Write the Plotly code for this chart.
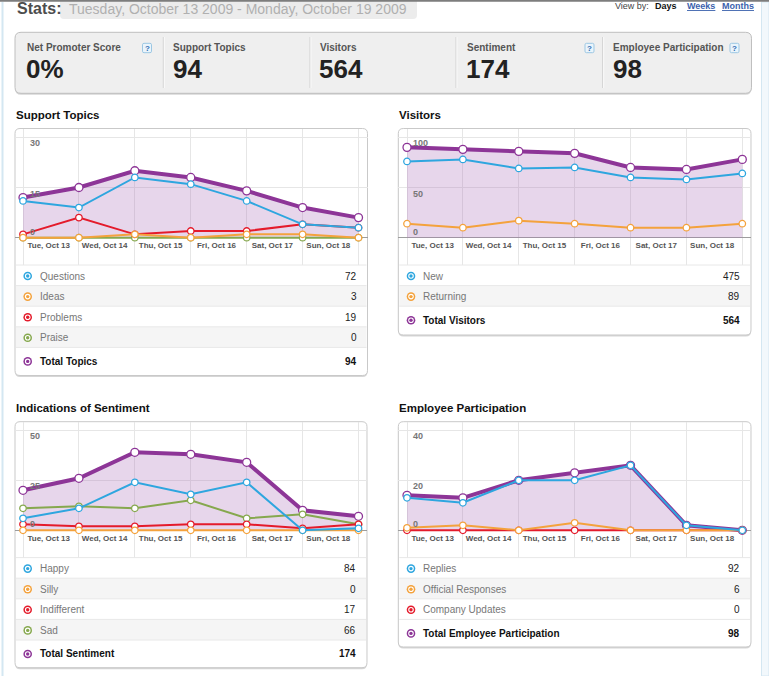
import plotly.graph_objects as go

W, H = 769, 676
FONT = "Liberation Sans, Arial, Helvetica, sans-serif"

days = ["Tue, Oct 13", "Wed, Oct 14", "Thu, Oct 15", "Fri, Oct 16",
        "Sat, Oct 17", "Sun, Oct 18", "Mon, Oct 19"]

# Support Topics
topic_names = ["Questions", "Ideas", "Problems", "Praise"]
questions = [11, 9, 18, 16, 11, 4, 3]
ideas = [0, 0, 1, 0, 1, 1, 0]
problems = [1, 6, 1, 2, 2, 4, 3]
praise = [0, 0, 0, 0, 0, 0, 0]
topics_total = [12, 15, 20, 18, 14, 9, 6]
topics_ticks = [0, 15, 30]

# Visitors
visitor_names = ["New", "Returning"]
new_visitors = [76, 78, 69, 70, 60, 58, 64]
returning = [14, 10, 17, 14, 10, 10, 14]
visitors_total = [90, 88, 86, 84, 70, 68, 78]
visitors_ticks = [0, 50, 100]

# Indications of Sentiment
sentiment_names = ["Happy", "Silly", "Indifferent", "Sad"]
happy = [6, 11, 24, 18, 24, 0, 1]
silly = [0, 0, 0, 0, 0, 0, 0]
indifferent = [3, 2, 2, 3, 3, 1, 3]
sad = [11, 12, 11, 15, 6, 8, 3]
sentiment_total = [20, 26, 39, 38, 34, 10, 7]
sentiment_ticks = [0, 25, 50]

# Employee Participation
employee_names = ["Replies", "Official Responses", "Company Updates"]
replies = [13, 11, 20, 20, 26, 2, 0]
official = [1, 2, 0, 3, 0, 0, 0]
company = [0, 0, 0, 0, 0, 0, 0]
employee_total = [14, 13, 20, 23, 26, 2, 0]
employee_ticks = [0, 20, 40]

kpi_labels = ["Net Promoter Score", "Support Topics", "Visitors", "Sentiment",
              "Employee Participation"]
kpi_values = ["0%", sum(topics_total), sum(visitors_total), sum(sentiment_total),
              sum(employee_total)]

BLUE = "#2ea6df"
ORANGE = "#f4a23c"
RED = "#e41b2b"
GREEN = "#86a84e"
PURPLE = "#8d3597"
FILL = "rgba(175,120,190,0.30)"


def fx(x):
    return x / W


def fy(y):
    return 1 - y / H


def rrect(x0, y0, x1, y1, r):
    def p(x, y):
        return f"{fx(x):.5f},{fy(y):.5f}"
    return (f"M{p(x0 + r, y0)} L{p(x1 - r, y0)} Q{p(x1, y0)} {p(x1, y0 + r)} "
            f"L{p(x1, y1 - r)} Q{p(x1, y1)} {p(x1 - r, y1)} "
            f"L{p(x0 + r, y1)} Q{p(x0, y1)} {p(x0, y1 - r)} "
            f"L{p(x0, y0 + r)} Q{p(x0, y0)} {p(x0 + r, y0)} Z")


shapes = []
annotations = []


def text(x, y, s, size, color, bold=False, anchor="left", **kw):
    annotations.append(dict(
        x=fx(x), y=fy(y), xref="paper", yref="paper", text=str(s), showarrow=False,
        xanchor=anchor, yanchor="middle",
        font=dict(family=FONT, size=size, color=color, weight="bold" if bold else "normal"),
        **kw))


def box(x0, y0, x1, y1, r, fill, line="#c9c9c9"):
    shapes.append(dict(type="path", path=rrect(x0, y0 + 1.5, x1, y1 + 1.5, r),
                       xref="paper", yref="paper", fillcolor="#d6d6d6",
                       line=dict(width=0), layer="below"))
    shapes.append(dict(type="path", path=rrect(x0, y0, x1, y1, r),
                       xref="paper", yref="paper", fillcolor=fill,
                       line=dict(color=line, width=1), layer="below"))


def icon(cx, cy, color):
    for r, c in [(4.3, color), (2.8, "white"), (1.7, color)]:
        shapes.append(dict(type="circle", xref="paper", yref="paper",
                           x0=fx(cx - r), x1=fx(cx + r), y0=fy(cy + r), y1=fy(cy - r),
                           fillcolor=c, line=dict(width=0)))


# page frame
shapes.append(dict(type="rect", xref="paper", yref="paper", x0=0, x1=1,
                   y0=fy(1.8), y1=1, fillcolor="#7d7d7d", line=dict(width=0)))
shapes.append(dict(type="line", xref="paper", yref="paper", x0=fx(2.5), x1=fx(2.5),
                   y0=0, y1=fy(2), line=dict(color="#d4e7f2", width=2)))
shapes.append(dict(type="rect", xref="paper", yref="paper", x0=fx(761.5), x1=1,
                   y0=0, y1=fy(2), fillcolor="#f2f8fc",
                   line=dict(color="#d4e7f2", width=1), layer="below"))

# header
text(15, 8.5, "Stats:", 16, "#4d4d4d", bold=True)
shapes.append(dict(type="path", path=rrect(60, -8, 417, 19, 4), xref="paper",
                   yref="paper", fillcolor="#ececec", line=dict(width=0), layer="below"))
text(66.5, 9, "Tuesday, October 13 2009 - Monday, October 19 2009", 14, "#b0b0b0")
text(613, 5.5, "View by:", 9, "#444")
text(652.5, 5.5, "Days", 9, "#111", bold=True)
text(685, 5.5, "<u>Weeks</u>", 9, "#3c62ad", bold=True)
text(720, 5.5, "<u>Months</u>", 9, "#3c62ad", bold=True)

# KPI strip
box(15, 32.3, 751.5, 93.3, 6, "#efefef", line="#bfbfbf")
kpi_x = [25, 171.7, 318.3, 465, 611.7]
for xd in [163.3, 310, 456, 602.7]:
    shapes.append(dict(type="line", xref="paper", yref="paper", x0=fx(xd), x1=fx(xd),
                       y0=fy(88), y1=fy(37), line=dict(color="#d0d0d0", width=1)))
    shapes.append(dict(type="line", xref="paper", yref="paper", x0=fx(xd + 1), x1=fx(xd + 1),
                       y0=fy(88), y1=fy(37), line=dict(color="#fafafa", width=1)))
for x, lab, val in zip(kpi_x, kpi_labels, kpi_values):
    text(x - 0.5, 47.7, lab, 10, "#555", bold=True)
    text(x - 1, 69.5, val, 26, "#222", bold=True)
for cx in [147, 589.5, 734.5]:
    shapes.append(dict(type="path", path=rrect(cx - 4.5, 43.3, cx + 4.5, 52.7, 1.5),
                       xref="paper", yref="paper", fillcolor="#eaf4fb",
                       line=dict(color="#9cc7e3", width=1)))
    text(cx, 48, "?", 8, "#2f6db3", bold=True, anchor="center")

panels = [
    dict(title="Support Topics", box=(15, 128.5, 367.5, 375.5), first=23, last=358.5,
         zero=237.7, top=137.3, ticks=topics_ticks, names=topic_names,
         series=[questions, ideas, problems, praise], colors=[BLUE, ORANGE, RED, GREEN],
         total=topics_total, total_name="Total Topics"),
    dict(title="Visitors", box=(398.3, 128.5, 751, 335), first=407, last=742.3,
         zero=237.7, top=137.3, ticks=visitors_ticks, names=visitor_names,
         series=[new_visitors, returning], colors=[BLUE, ORANGE],
         total=visitors_total, total_name="Total Visitors"),
    dict(title="Indications of Sentiment", box=(15, 421.7, 367, 667.7), first=23, last=358.5,
         zero=530.3, top=430.3, ticks=sentiment_ticks, names=sentiment_names,
         series=[happy, silly, indifferent, sad], colors=[BLUE, ORANGE, RED, GREEN],
         total=sentiment_total, total_name="Total Sentiment"),
    dict(title="Employee Participation", box=(398.3, 421.7, 751, 647), first=407, last=742.3,
         zero=530.3, top=430.3, ticks=employee_ticks, names=employee_names,
         series=[replies, official, company], colors=[BLUE, ORANGE, RED],
         total=employee_total, total_name="Total Employee Participation"),
]

fig = go.Figure()
xs = list(range(len(days)))
ROW = 20.6

for k, p in enumerate(panels, start=1):
    bx0, by0, bx1, by1 = p["box"]
    zero = p["zero"]
    legend_top = zero + 27.3
    xa = "x" if k == 1 else f"x{k}"
    ya = "y" if k == 1 else f"y{k}"

    box(bx0, by0, bx1, by1, 5, "white")
    text(bx0 - 1.5, by0 - 13.5, p["title"], 11.5, "#111", bold=True)

    unit = (p["last"] - p["first"]) / (len(days) - 1)
    ppu = (zero - p["top"]) / p["ticks"][-1]
    fig.update_layout({
        ("xaxis" if k == 1 else f"xaxis{k}"): dict(
            domain=[fx(bx0), fx(bx1)],
            range=[(bx0 - p["first"]) / unit, len(days) - 1 + (bx1 - p["last"]) / unit],
            anchor="free", position=fy(zero + 1.5),
            tickmode="array", tickvals=[i + 0.46 for i in range(len(days) - 1)],
            ticktext=days[:-1], ticks="", showgrid=False, zeroline=False, showline=False,
            tickfont=dict(family=FONT, size=8, color="#555", weight="bold"),
            minor=dict(tickmode="linear", tick0=0, dtick=1, showgrid=True,
                       gridcolor="#e6e6e6", gridwidth=1),
            fixedrange=True),
        ("yaxis" if k == 1 else f"yaxis{k}"): dict(
            domain=[fy(legend_top), fy(by0)],
            range=[-(legend_top - zero) / ppu, (zero - by0) / ppu],
            anchor=xa, tickmode="array", tickvals=p["ticks"][1:], showticklabels=False,
            showgrid=True, gridcolor="#e6e6e6", zeroline=True, zerolinecolor="#9d9d9d",
            zerolinewidth=1, ticks="", fixedrange=True),
    })

    for t in p["ticks"]:
        annotations.append(dict(
            x=fx(bx0 + 12.5), y=t, xref="paper", yref=ya, text=str(t), showarrow=False,
            xanchor="left", yanchor="middle", yshift=6 if t == 0 else -6,
            font=dict(family=FONT, size=9, color="#777", weight="bold")))

    fig.add_trace(go.Scatter(
        x=xs, y=p["total"], xaxis=xa, yaxis=ya, mode="lines+markers",
        fill="tozeroy", fillcolor=FILL, line=dict(color=PURPLE, width=4),
        marker=dict(size=8, color="white", line=dict(color=PURPLE, width=1.3)),
        hoverinfo="skip"))
    for vals, color in reversed(list(zip(p["series"], p["colors"]))):
        fig.add_trace(go.Scatter(
            x=xs, y=vals, xaxis=xa, yaxis=ya, mode="lines+markers",
            line=dict(color=color, width=2),
            marker=dict(size=6.5, color="white", line=dict(color=color, width=1.3)),
            hoverinfo="skip"))

    # legend table
    ix, lx, vx = bx0 + 12.7, bx0 + 22.7, bx1 - 9
    rows = list(zip(p["names"], p["colors"], p["series"]))
    for i, (name, color, vals) in enumerate(rows):
        yt = legend_top + i * ROW
        if i % 2 == 1:
            shapes.append(dict(type="rect", xref="paper", yref="paper", x0=fx(bx0 + 1),
                               x1=fx(bx1 - 1), y0=fy(yt + ROW), y1=fy(yt),
                               fillcolor="#f5f5f5", line=dict(width=0), layer="below"))
        shapes.append(dict(type="line", xref="paper", yref="paper", x0=fx(bx0 + 1),
                           x1=fx(bx1 - 1), y0=fy(yt), y1=fy(yt),
                           line=dict(color="#e8e8e8", width=1)))
        icon(ix, yt + 11, color)
        text(lx, yt + 11, name, 10, "#777")
        text(vx, yt + 11, sum(vals), 10, "#222", anchor="right")
    yt = legend_top + len(rows) * ROW
    shapes.append(dict(type="line", xref="paper", yref="paper", x0=fx(bx0 + 1),
                       x1=fx(bx1 - 1), y0=fy(yt), y1=fy(yt),
                       line=dict(color="#e8e8e8", width=1)))
    icon(ix, yt + 14, PURPLE)
    text(lx, yt + 14, p["total_name"], 10, "#111", bold=True)
    text(vx, yt + 14, sum(p["total"]), 10, "#111", bold=True, anchor="right")

fig.update_layout(
    width=W, height=H, margin=dict(l=0, r=0, t=0, b=0),
    paper_bgcolor="white", plot_bgcolor="rgba(0,0,0,0)",
    showlegend=False, shapes=shapes, annotations=annotations,
    font=dict(family=FONT),
)

fig.write_html("out.html", config={"displayModeBar": False},
               post_script="document.body.style.margin='0';")
